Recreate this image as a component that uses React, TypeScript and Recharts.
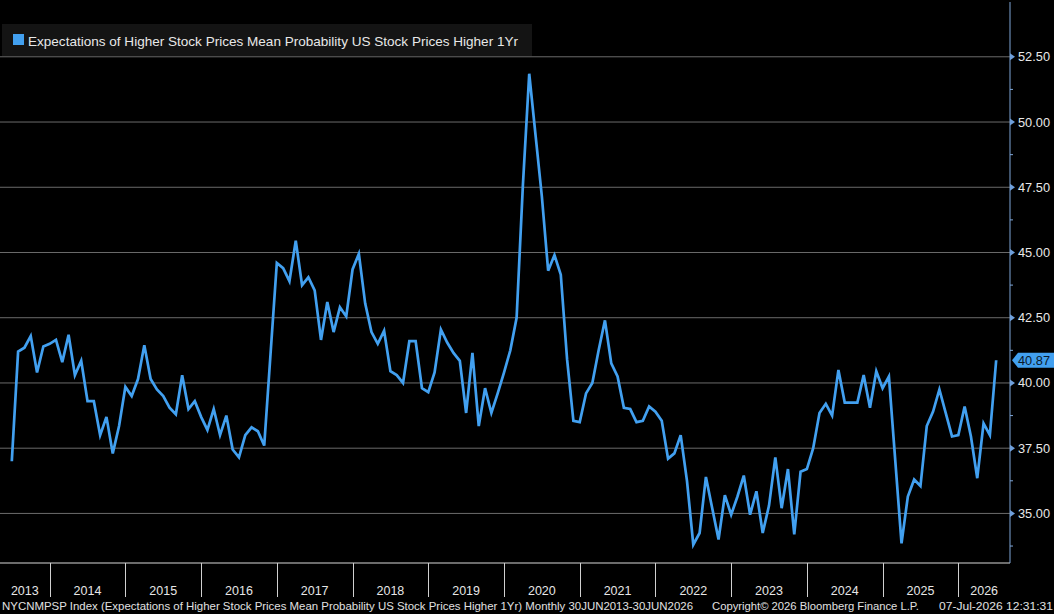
import { LineChart, Line, XAxis, YAxis, ReferenceLine, ReferenceDot } from 'recharts';

// Mean probability (%) that US stock prices are higher in 1 year, month-end readings
const SCE_2013 = [37.0, 41.2, 41.35, 41.8, 40.4, 41.4, 41.5];
const SCE_2014 = [41.65, 40.8, 41.85, 40.3, 40.85, 39.3, 39.3, 38.0, 38.7, 37.3, 38.35, 39.85];
const SCE_2015 = [39.5, 40.15, 41.45, 40.15, 39.75, 39.5, 39.05, 38.8, 40.3, 39.0, 39.3, 38.7];
const SCE_2016 = [38.2, 39.0, 38.0, 38.75, 37.45, 37.15, 38.0, 38.3, 38.15, 37.6, 41.1, 44.6];
const SCE_2017 = [44.4, 43.9, 45.45, 43.75, 44.05, 43.55, 41.65, 43.1, 41.95, 42.9, 42.55, 44.35];
const SCE_2018 = [44.95, 43.05, 41.95, 41.5, 42.0, 40.45, 40.3, 40.0, 41.6, 41.6, 39.8, 39.65];
const SCE_2019 = [40.4, 42.05, 41.55, 41.15, 40.85, 38.85, 41.15, 38.35, 39.8, 38.85, 39.6, 40.4];
const SCE_2020 = [41.25, 42.5, 47.6, 51.85, 49.5, 47.15, 44.3, 44.9, 44.15, 40.9, 38.55, 38.5];
const SCE_2021 = [39.6, 40.0, 41.25, 42.4, 40.75, 40.25, 39.05, 39.0, 38.5, 38.55, 39.1, 38.9];
const SCE_2022 = [38.55, 37.1, 37.3, 38.0, 36.25, 33.8, 34.25, 36.4, 35.2, 34.0, 35.7, 34.95];
const SCE_2023 = [35.65, 36.45, 34.95, 35.85, 34.25, 35.3, 37.15, 35.2, 36.7, 34.2, 36.6, 36.7];
const SCE_2024 = [37.5, 38.85, 39.2, 38.75, 40.5, 39.25, 39.25, 39.25, 40.3, 39.05, 40.45, 39.8];
const SCE_2025 = [40.25, 37.05, 33.85, 35.65, 36.3, 36.05, 38.35, 38.9, 39.75, 38.85, 37.95, 38.0];
const SCE_2026 = [39.1, 37.95, 36.35, 38.45, 38.0, 40.87];

const YEARS = ['2013', '2014', '2015', '2016', '2017', '2018', '2019', '2020', '2021', '2022', '2023', '2024', '2025', '2026'];
const Y_TICKS = [35, 37.5, 40, 42.5, 45, 47.5, 50, 52.5];
const Y_MINOR = [33.75, 36.25, 38.75, 41.25, 43.75, 46.25, 48.75, 51.25];

const SERIES_NAME = 'Expectations of Higher Stock Prices Mean Probability US Stock Prices Higher 1Yr';
const FOOTER_LEFT = 'NYCNMPSP Index (Expectations of Higher Stock Prices Mean Probability US Stock Prices Higher 1Yr) Monthly 30JUN2013-30JUN2026';
const FOOTER_MID = 'Copyright\u00a9 2026 Bloomberg Finance L.P.';
const FOOTER_RIGHT = '07-Jul-2026 12:31:31';

const BY_YEAR = [SCE_2013, SCE_2014, SCE_2015, SCE_2016, SCE_2017, SCE_2018, SCE_2019,
  SCE_2020, SCE_2021, SCE_2022, SCE_2023, SCE_2024, SCE_2025, SCE_2026];

const values = BY_YEAR.flat();
const data = values.map((v, i) => ({ t: i, v }));
const LAST = values[values.length - 1];

// month index axis, padded a little past the first and last month
const X_MIN = -1.87;
const X_MAX = 158.19;
const Y_MIN = 33.1;
const Y_MAX = 54.6;

// year boundaries fall after each December
const yearEdges: number[] = [];
{
  let n = 0;
  BY_YEAR.slice(0, -1).forEach((s) => {
    n += s.length;
    yearEdges.push(n - 1);
  });
}
const yearCenters = YEARS.map((_, k) => {
  const a = k === 0 ? X_MIN : yearEdges[k - 1];
  const b = k === YEARS.length - 1 ? X_MAX : yearEdges[k];
  return (a + b) / 2;
});

const BLUE = '#42a0f0';
const AXIS_BLUE = '#7ea6d8';
const FONT = '"Liberation Sans", Arial, sans-serif';

function XTick(props: any) {
  const { x, y, payload } = props;
  const k = yearCenters.findIndex((c) => Math.abs(c - payload.value) < 1e-6);
  if (k < 0) {
    const px = Math.round(x) + 0.5;
    return <line x1={px} x2={px} y1={y} y2={y + 34} stroke="#d0d0d0" strokeWidth={1} />;
  }
  return (
    <text x={x} y={y + 32} textAnchor="middle" fill="#e6e6e6" fontSize={12.5} fontFamily={FONT}>
      {YEARS[k]}
    </text>
  );
}

function YTick(props: any) {
  const { x, y, payload } = props;
  if (!Y_TICKS.includes(payload.value)) {
    return <line x1={x} x2={x + 3} y1={y} y2={y} stroke={AXIS_BLUE} strokeWidth={1} />;
  }
  return (
    <g>
      <polygon points={`${x},${y - 3.5} ${x + 5},${y} ${x},${y + 3.5}`} fill="#6fa0dc" />
      <text x={x + 8} y={y + 4.5} fill="#e8e8e8" fontSize={12.8} fontFamily={FONT}>
        {payload.value.toFixed(2)}
      </text>
    </g>
  );
}

function LastTag(props: any) {
  const { cx, cy } = props;
  return (
    <g>
      <polygon
        points={`${cx + 2},${cy} ${cx + 8},${cy - 7.5} ${cx + 44},${cy - 7.5} ${cx + 44},${cy + 7.5} ${cx + 8},${cy + 7.5}`}
        fill={BLUE}
      />
      <text x={cx + 8} y={cy + 4.5} fill="#0b1a2b" fontSize={12.8} fontFamily={FONT}>
        {LAST.toFixed(2)}
      </text>
    </g>
  );
}

export default function App() {
  return (
    <div style={{ position: 'absolute', top: 0, left: 0, width: 1054, height: 614, background: '#000', overflow: 'hidden' }}>
      <LineChart width={1054} height={614} data={data} margin={{ top: 2, right: 0, left: 0, bottom: 0 }}>
        <XAxis
          dataKey="t"
          type="number"
          domain={[X_MIN, X_MAX]}
          allowDataOverflow
          ticks={[...yearEdges, ...yearCenters]}
          interval={0}
          tickLine={false}
          tickSize={0}
          tickMargin={0}
          height={51}
          axisLine={{ stroke: '#d8d8d8' }}
          tick={(p: any) => <XTick {...p} />}
        />
        <YAxis
          yAxisId="r"
          orientation="right"
          type="number"
          domain={[Y_MIN, Y_MAX]}
          allowDataOverflow
          ticks={[...Y_TICKS, ...Y_MINOR]}
          interval={0}
          tickLine={false}
          tickSize={0}
          tickMargin={0}
          width={44}
          axisLine={{ stroke: AXIS_BLUE }}
          tick={(p: any) => <YTick {...p} />}
        />
        {Y_TICKS.map((v) => (
          <ReferenceLine key={v} yAxisId="r" y={v} stroke="#6b6b6b" strokeWidth={1} />
        ))}
        <Line
          yAxisId="r"
          type="linear"
          dataKey="v"
          stroke={BLUE}
          strokeWidth={2.7}
          dot={false}
          isAnimationActive={false}
        />
        <ReferenceDot yAxisId="r" x={X_MAX} y={LAST} ifOverflow="visible" shape={(p: any) => <LastTag {...p} />} />
      </LineChart>

      <svg width={1054} height={614} style={{ position: 'absolute', top: 0, left: 0, pointerEvents: 'none' }}>
        <rect x={2} y={24} width={530} height={32} fill="#141414" />
        <rect x={13} y={34} width={11} height={11} fill={BLUE} />
        <text x={28} y={45.5} fill="#e8e8e8" fontSize={13.5} fontFamily={FONT} textLength={490} lengthAdjust="spacingAndGlyphs">
          {SERIES_NAME}
        </text>
        <text x={2} y={610} fill="#e0e0e0" fontSize={11.6} fontFamily={FONT} textLength={691} lengthAdjust="spacingAndGlyphs">
          {FOOTER_LEFT}
        </text>
        <text x={712} y={610} fill="#e0e0e0" fontSize={11.6} fontFamily={FONT} textLength={207} lengthAdjust="spacingAndGlyphs">
          {FOOTER_MID}
        </text>
        <text x={939} y={610} fill="#e0e0e0" fontSize={11.6} fontFamily={FONT} textLength={114} lengthAdjust="spacingAndGlyphs">
          {FOOTER_RIGHT}
        </text>
      </svg>
    </div>
  );
}
